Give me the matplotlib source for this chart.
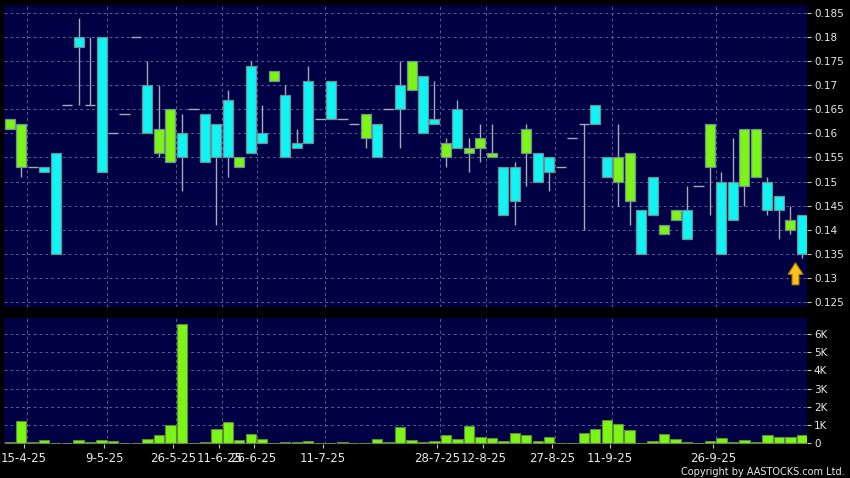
import numpy as np
import matplotlib
matplotlib.use("Agg")
from matplotlib import pyplot as plt
from matplotlib.patches import Polygon
from matplotlib.ticker import FixedLocator, FuncFormatter

# daily candles, oldest first
opens = [0.161, 0.153, 0.153, 0.153, 0.156, 0.166, 0.180, 0.166, 0.180, 0.160,
         0.164, 0.180, 0.170, 0.156, 0.154, 0.160, 0.165, 0.164, 0.162, 0.167,
         0.153, 0.174, 0.160, 0.171, 0.168, 0.158, 0.171, 0.163, 0.171, 0.163,
         0.162, 0.159, 0.162, 0.165, 0.170, 0.169, 0.172, 0.163, 0.155, 0.165,
         0.156, 0.157, 0.155, 0.153, 0.153, 0.156, 0.156, 0.155, 0.153, 0.159,
         0.162, 0.166, 0.155, 0.150, 0.146, 0.144, 0.151, 0.139, 0.142, 0.144,
         0.149, 0.153, 0.150, 0.150, 0.149, 0.151, 0.150, 0.147, 0.140, 0.143]
highs = [0.163, 0.162, 0.153, 0.153, 0.156, 0.166, 0.184, 0.180, 0.180, 0.160,
         0.164, 0.180, 0.175, 0.170, 0.165, 0.164, 0.165, 0.164, 0.162, 0.169,
         0.155, 0.175, 0.166, 0.173, 0.170, 0.161, 0.174, 0.163, 0.171, 0.163,
         0.162, 0.164, 0.162, 0.165, 0.175, 0.175, 0.172, 0.171, 0.159, 0.167,
         0.159, 0.162, 0.162, 0.153, 0.154, 0.162, 0.156, 0.155, 0.153, 0.159,
         0.162, 0.166, 0.155, 0.162, 0.156, 0.144, 0.151, 0.141, 0.144, 0.149,
         0.149, 0.162, 0.152, 0.159, 0.161, 0.161, 0.151, 0.147, 0.145, 0.143]
lows = [0.161, 0.151, 0.153, 0.152, 0.135, 0.166, 0.166, 0.166, 0.152, 0.160,
        0.164, 0.180, 0.160, 0.155, 0.154, 0.148, 0.165, 0.154, 0.141, 0.151,
        0.153, 0.156, 0.158, 0.171, 0.155, 0.157, 0.158, 0.163, 0.163, 0.163,
        0.162, 0.157, 0.155, 0.165, 0.157, 0.169, 0.160, 0.162, 0.153, 0.157,
        0.152, 0.154, 0.155, 0.143, 0.141, 0.149, 0.150, 0.148, 0.153, 0.159,
        0.140, 0.162, 0.151, 0.145, 0.141, 0.135, 0.143, 0.139, 0.142, 0.138,
        0.149, 0.143, 0.135, 0.142, 0.145, 0.151, 0.143, 0.138, 0.139, 0.134]
closes = [0.163, 0.162, 0.153, 0.152, 0.135, 0.166, 0.178, 0.166, 0.152, 0.160,
          0.164, 0.180, 0.160, 0.161, 0.165, 0.155, 0.165, 0.154, 0.155, 0.155,
          0.155, 0.156, 0.158, 0.173, 0.155, 0.157, 0.158, 0.163, 0.163, 0.163,
          0.162, 0.164, 0.155, 0.165, 0.165, 0.175, 0.160, 0.162, 0.158, 0.157,
          0.157, 0.159, 0.156, 0.143, 0.146, 0.161, 0.150, 0.152, 0.153, 0.159,
          0.162, 0.162, 0.151, 0.155, 0.156, 0.135, 0.143, 0.141, 0.144, 0.138,
          0.149, 0.162, 0.135, 0.142, 0.161, 0.161, 0.144, 0.144, 0.142, 0.135]
# volume in thousands of shares
volumes = [0.05, 1.24, 0.05, 0.17, 0.03, 0.03, 0.17, 0.07, 0.17, 0.11,
           0.02, 0.01, 0.24, 0.43, 1.00, 6.57, 0.00, 0.07, 0.80, 1.17,
           0.19, 0.50, 0.22, 0.01, 0.06, 0.06, 0.13, 0.01, 0.04, 0.07,
           0.01, 0.04, 0.22, 0.09, 0.90, 0.19, 0.06, 0.13, 0.48, 0.22,
           0.93, 0.33, 0.28, 0.13, 0.56, 0.46, 0.13, 0.35, 0.04, 0.01,
           0.57, 0.76, 1.28, 1.06, 0.72, 0.04, 0.13, 0.52, 0.24, 0.06,
           0.01, 0.15, 0.30, 0.06, 0.19, 0.06, 0.43, 0.33, 0.35, 0.46]
date_labels = ["15-4-25", "9-5-25", "26-5-25", "11-6-25", "26-6-25", "11-7-25",
               "28-7-25", "12-8-25", "27-8-25", "11-9-25", "26-9-25"]
date_slots = [1.5, 8.5, 14.5, 18.5, 21.5, 27.5, 37.5, 41.5, 47.5, 52.5, 61.5]
price_ticks = [0.125, 0.13, 0.135, 0.14, 0.145, 0.15, 0.155, 0.16, 0.165,
               0.17, 0.175, 0.18, 0.185]
vol_ticks = [0, 1, 2, 3, 4, 5, 6]

BG = "#000044"
GRID = "#5c5c94"
UP = "#7cf516"
DOWN = "#10f4f4"
WICK = "#a8a8ba"
TXT = "#e8e8e8"

o = np.array(opens); c = np.array(closes)
h = np.array(highs); l = np.array(lows)
x = np.arange(len(o))

fig = plt.figure(figsize=(8.5, 4.78), dpi=100, facecolor="black")
ax = fig.add_axes([0.0047, 0.3584, 0.9447, 0.6312], facecolor=BG)
axv = fig.add_axes([0.0047, 0.0711, 0.9447, 0.2630], facecolor=BG)

for a in (ax, axv):
    for s in a.spines.values():
        s.set_visible(False)
    a.set_xlim(-0.5, 69.45)
    a.yaxis.tick_right()
    a.tick_params(axis="y", colors="#c8c8c8", labelcolor=TXT, labelsize=7.5,
                  length=3, width=0.8, pad=2)
    a.grid(axis="y", color=GRID, linestyle=(0, (3, 3)), linewidth=0.7)
    for p in date_slots:
        a.axvline(p, color=GRID, linestyle=(0, (3, 3)), linewidth=0.7, zorder=0.5)
    a.set_axisbelow(True)

# candles
ax.vlines(x, l, h, color=WICK, linewidth=1, zorder=2)
flat = o == c
ax.hlines(o[flat], x[flat] - 0.45, x[flat] + 0.45, color=WICK, linewidth=1, zorder=2)
body = ~flat
cols = np.where(c > o, UP, DOWN)
ax.bar(x[body], np.abs(c - o)[body], bottom=np.minimum(o, c)[body], width=0.87,
       color=cols[body], edgecolor="#6f8f94", linewidth=0.9, zorder=3)

ax.set_ylim(0.12396, 0.18673)
ax.yaxis.set_major_locator(FixedLocator(price_ticks))
ax.yaxis.set_major_formatter(FuncFormatter(lambda v, _: "%g" % round(v, 3)))
ax.set_xticks([])

# marker arrow under the last session
ax.add_patch(Polygon([(68.45, 0.1331), (69.1, 0.1307), (68.75, 0.1307), (68.75, 0.1285),
                      (68.15, 0.1285), (68.15, 0.1307), (67.8, 0.1307)],
                     closed=True, facecolor="#ffc21a", edgecolor="#b07a00",
                     linewidth=0.8, zorder=4))

# volume
axv.bar(x, volumes, width=0.9, color=UP, edgecolor="#5f8a3c", linewidth=0.8, zorder=3)
axv.set_ylim(-0.04, 6.86)
axv.yaxis.set_major_locator(FixedLocator(vol_ticks))
axv.yaxis.set_major_formatter(FuncFormatter(lambda v, _: "0" if v == 0 else "%dK" % v))
axv.set_xticks([p - 0.25 for p in date_slots])
axv.set_xticklabels(date_labels)
axv.tick_params(axis="x", colors="#c8c8c8", labelcolor=TXT, labelsize=8.5,
                length=3, width=0.8, pad=3)

fig.text(0.994, 0.003, "Copyright by AASTOCKS.com Ltd.", color=TXT,
         fontsize=7, ha="right", va="bottom")

fig.savefig("out.png", dpi=100, facecolor="black")
